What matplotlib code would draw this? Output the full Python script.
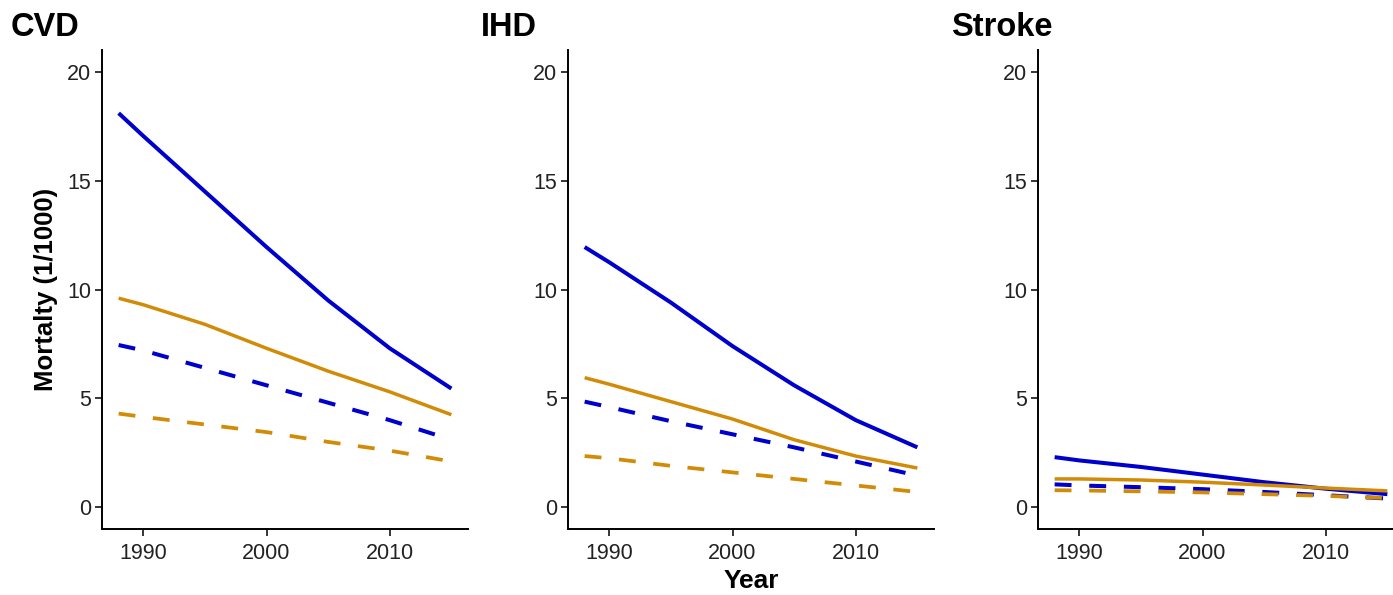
import numpy as np
import matplotlib
matplotlib.use('Agg')
import matplotlib.pyplot as plt

plt.rcParams['font.family'] = ['Liberation Sans', 'DejaVu Sans']

years = [1988, 1990, 1995, 2000, 2005, 2010, 2015]

# men (blue) / women (orange), solid vs dashed series
cvd_blue_solid = [18.1, 17.05, 14.5, 11.95, 9.5, 7.3, 5.45]
cvd_orange_solid = [9.6, 9.3, 8.4, 7.3, 6.25, 5.3, 4.25]
cvd_blue_dash = [7.45, 7.2, 6.4, 5.6, 4.8, 4.0, 3.1]
cvd_orange_dash = [4.3, 4.15, 3.8, 3.45, 3.0, 2.6, 2.1]

ihd_blue_solid = [11.95, 11.25, 9.4, 7.4, 5.6, 4.0, 2.75]
ihd_orange_solid = [5.95, 5.65, 4.85, 4.05, 3.1, 2.35, 1.8]
ihd_blue_dash = [4.85, 4.6, 3.95, 3.35, 2.75, 2.1, 1.45]
ihd_orange_dash = [2.35, 2.25, 1.9, 1.6, 1.3, 1.0, 0.7]

stroke_blue_solid = [2.3, 2.15, 1.85, 1.5, 1.15, 0.85, 0.6]
stroke_orange_solid = [1.3, 1.3, 1.25, 1.15, 1.02, 0.88, 0.75]
stroke_blue_dash = [1.05, 1.0, 0.92, 0.83, 0.7, 0.55, 0.4]
stroke_orange_dash = [0.78, 0.77, 0.73, 0.68, 0.6, 0.52, 0.42]

panels = [
    ('CVD', cvd_blue_solid, cvd_orange_solid, cvd_blue_dash, cvd_orange_dash),
    ('IHD', ihd_blue_solid, ihd_orange_solid, ihd_blue_dash, ihd_orange_dash),
    ('Stroke', stroke_blue_solid, stroke_orange_solid, stroke_blue_dash, stroke_orange_dash),
]

blue = '#0000CD'
orange = '#D18B07'

W, H = 1393, 595
fig = plt.figure(figsize=(W / 100, H / 100), dpi=100)

lefts = [102, 568, 1038]
top, bottom, width = 50, 529, 366
title_x = [11, 481, 951]

for i, (name, bs, os_, bd, od) in enumerate(panels):
    ax = fig.add_axes([lefts[i] / W, (H - bottom) / H, width / W, (bottom - top) / H])
    ax.plot(years, bs, color=blue, lw=2.9, solid_capstyle='butt')
    ax.plot(years, os_, color=orange, lw=2.5, solid_capstyle='butt')
    ax.plot(years, bd, color=blue, lw=2.9, dashes=(4.2, 4.4))
    ax.plot(years, od, color=orange, lw=2.7, dashes=(4.5, 4.7))
    ax.set_xlim(1986.65, 2016.35)
    ax.set_ylim(-1, 21)
    ax.set_xticks([1990, 2000, 2010])
    ax.set_yticks([0, 5, 10, 15, 20])
    for s in ['top', 'right']:
        ax.spines[s].set_visible(False)
    for s in ['left', 'bottom']:
        ax.spines[s].set_linewidth(1.4)
    ax.tick_params(axis='y', length=5, width=1.1, labelsize=15.5, labelcolor='#222222', pad=3)
    ax.tick_params(axis='x', length=5, width=1.1, labelsize=15.5, labelcolor='#222222', pad=5)
    fig.text(title_x[i] / W, (H - 36) / H, name, fontsize=23.5, fontweight='bold',
             ha='left', va='baseline')
    if i == 0:
        ax.set_ylabel('Mortalty (1/1000)', fontsize=18.5, fontweight='bold', labelpad=6)
    if i == 1:
        ax.set_xlabel('Year', fontsize=19, fontweight='bold', labelpad=4)

fig.savefig('out.png', dpi=100)
